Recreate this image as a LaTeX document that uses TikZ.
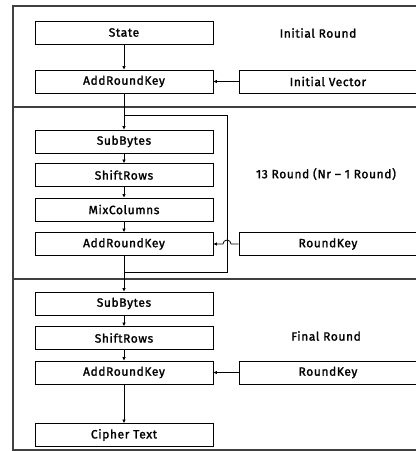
\documentclass[tikz,border=0pt]{standalone}
\usepackage{fontspec}
\setmainfont{Fira Sans}[LetterSpace=5, FakeBold=1.6]
\usetikzlibrary{arrows.meta}
\begin{document}
\begin{tikzpicture}[x=1pt,y=-1pt,
  box/.style={draw, line width=0.8pt, minimum width=178pt, minimum height=23pt,
    inner sep=0pt, font=\fontsize{12}{14}\selectfont},
  lbl/.style={font=\fontsize{12}{14}\selectfont},
  flow/.style={line width=0.8pt, -{Latex[length=3.5pt,width=3.5pt]}},
  wire/.style={line width=0.8pt},
  frame/.style={draw=black!75, line width=1.1pt}]
\useasboundingbox (0,0) rectangle (416,451);
\clip (0,0) rectangle (416,451);

% section frames
\draw[frame] (416,6) -- (13,6) -- (13,450) -- (416,450);
\draw[frame] (13,107) -- (416,107);
\draw[frame] (13,279) -- (416,279);

% initial round
\node[box] (state) at (124,32.5) {State};
\node[box] (ark1) at (124,81.5) {AddRoundKey};
\node[box] (iv) at (328,81.5) {Initial Vector};
\node[lbl] (t1) at (318,33) {Initial Round};

% main rounds
\node[box] (sb2) at (124,141.5) {SubBytes};
\node[box] (sr2) at (124,175) {ShiftRows};
\node[box] (mc2) at (124,209.5) {MixColumns};
\node[box] (ark2) at (124,244) {AddRoundKey};
\node[box] (rk2) at (328,244) {RoundKey};
\node[lbl] (t2) at (326,174) {13 Round (Nr – 1 Round)};

% final round
\node[box] (sb3) at (124,303.5) {SubBytes};
\node[box] (sr3) at (124,338) {ShiftRows};
\node[box] (ark3) at (124,372.5) {AddRoundKey};
\node[box] (rk3) at (328,372.5) {RoundKey};
\node[box] (ct) at (124,435) {Cipher Text};
\node[lbl] (t3) at (326,336) {Final Round};

% loop-back path
\coordinate (ltop) at (124,115);
\coordinate (lbot) at (124,272);
\coordinate (hop) at (231,244);

\draw[flow] (state) -- (ark1);
\draw[flow] (iv) -- (ark1);
\draw[flow] (ark1) -- (sb2);
\draw[flow] (sb2) -- (sr2);
\draw[flow] (sr2) -- (mc2);
\draw[flow] (mc2) -- (ark2);
\draw[wire] (ltop) -| (227,272) -- (lbot);
\draw[flow] (rk2.west) -- (hop) arc[start angle=0, end angle=180, radius=4pt] -- (ark2.east);
\draw[flow] (ark2) -- (sb3);
\draw[flow] (sb3) -- (sr3);
\draw[flow] (sr3) -- (ark3);
\draw[flow] (rk3) -- (ark3);
\draw[flow] (ark3) -- (ct);
\end{tikzpicture}
\end{document}
